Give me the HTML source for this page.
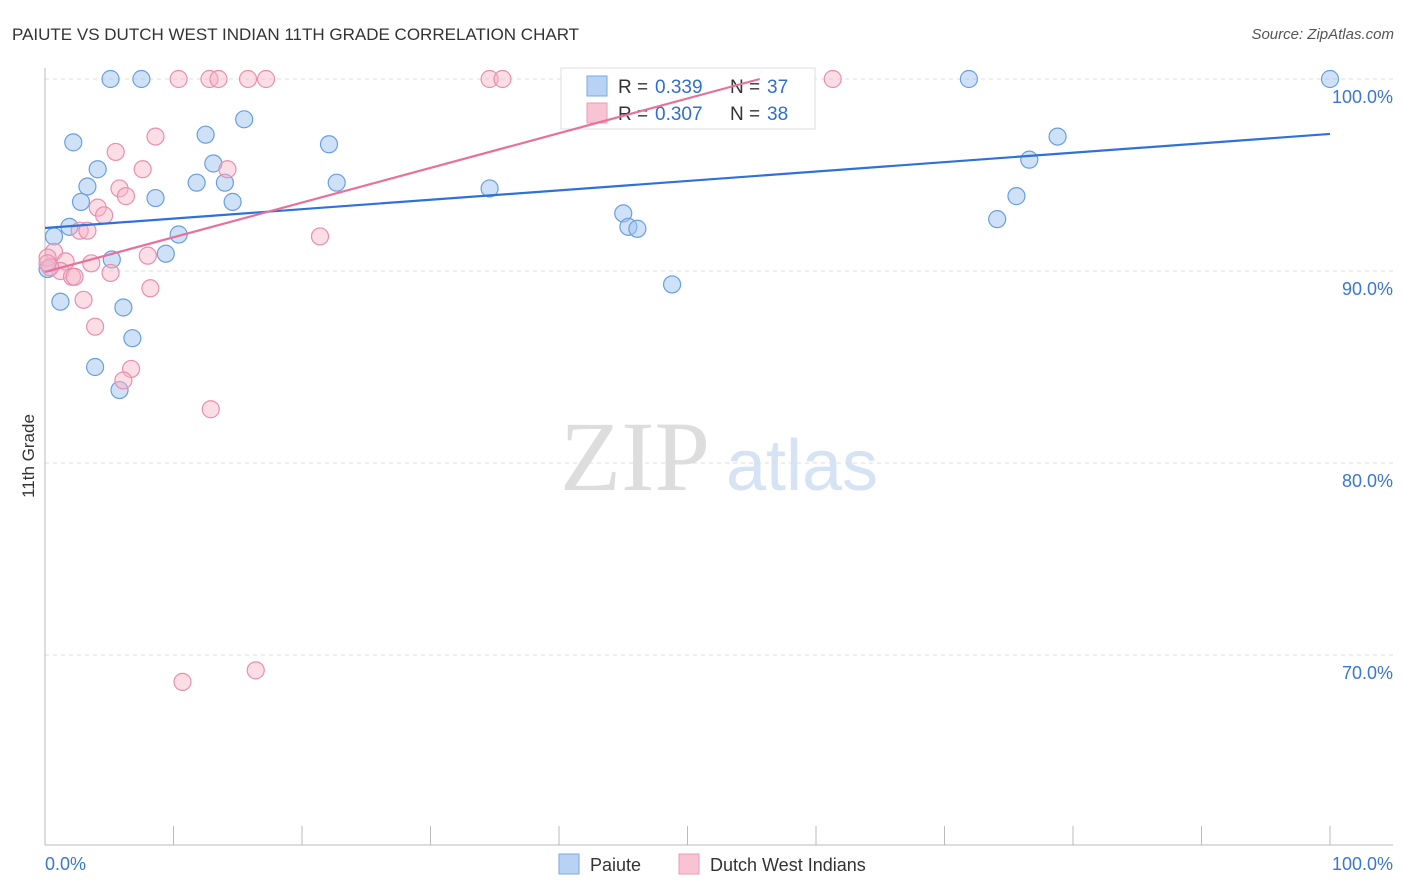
<!DOCTYPE html>
<html><head><meta charset="utf-8"><style>
body{margin:0;background:#fff;font-family:"Liberation Sans",sans-serif}
svg{display:block}
</style></head><body>
<svg id="c" width="1406" height="892">
<text x="12" y="40" font-size="17" fill="#333">PAIUTE VS DUTCH WEST INDIAN 11TH GRADE CORRELATION CHART</text>
<text x="1394" y="39" font-size="15" fill="#555" font-style="italic" text-anchor="end">Source: ZipAtlas.com</text>
<text x="34" y="456" font-size="17" fill="#333" text-anchor="middle" transform="rotate(-90 34 456)">11th Grade</text>
<g><text x="635" y="490" font-size="100" fill="#ddd" font-family="Liberation Serif,serif" text-anchor="middle">ZIP</text><text x="802" y="490" font-size="72" fill="#d6e3f5" text-anchor="middle">atlas</text></g>
<g id="grid"></g><g id="axes"></g>
<g>
<rect x="561" y="68" width="254" height="61" fill="#fff" stroke="#ddd"/>
<rect x="587" y="76" width="20" height="20" fill="#b8d2f4" stroke="#7aa8e6"/>
<text x="618" y="93" font-size="19" fill="#333">R =</text><text x="655" y="93" font-size="19" fill="#2f6fd0">0.339</text>
<text x="730" y="93" font-size="19" fill="#333">N =</text><text x="767" y="93" font-size="19" fill="#2f6fd0">37</text>
<rect x="587" y="103" width="20" height="20" fill="#f8c4d4" stroke="#ec9ab6"/>
<text x="618" y="120" font-size="19" fill="#333">R =</text><text x="655" y="120" font-size="19" fill="#2f6fd0">0.307</text>
<text x="730" y="120" font-size="19" fill="#333">N =</text><text x="767" y="120" font-size="19" fill="#2f6fd0">38</text>
</g>
<g id="marks"></g>
<g>
<rect x="559" y="854" width="20" height="20" fill="#b8d2f4" stroke="#7aa8e6"/><text x="590" y="871" font-size="18" fill="#333">Paiute</text>
<rect x="679" y="854" width="20" height="20" fill="#f8c4d4" stroke="#ec9ab6"/><text x="710" y="871" font-size="18" fill="#333">Dutch West Indians</text>
</g>
<text x="45" y="870" font-size="18" fill="#3a76d4">0.0%</text>
<text x="1393" y="870" font-size="18" fill="#3a76d4" text-anchor="end">100.0%</text>
</svg>
<script>
const yTicks=[100,90,80,70];
const blueX=[5.1,7.5,71.9,100,2.2,12.5,15.5,22.1,4.1,13.1,3.3,11.8,14.0,22.7,34.6,2.8,8.6,14.6,1.9,0.7,10.4,9.4,5.2,0.2,1.2,6.1,6.8,3.9,5.8,45.0,45.4,46.1,48.8,74.1,75.6,76.6,78.8];
const blueY=[100,100,100,100,96.7,97.1,97.9,96.6,95.3,95.6,94.4,94.6,94.6,94.6,94.3,93.6,93.8,93.6,92.3,91.8,91.9,90.9,90.6,90.1,88.4,88.1,86.5,85.0,83.8,93.0,92.3,92.2,89.3,92.7,93.9,95.8,97.0];
const pinkX=[10.4,12.8,13.5,15.8,17.2,34.6,35.6,61.3,8.6,5.5,7.6,14.2,5.8,6.3,4.1,4.6,2.7,3.3,21.4,0.7,0.2,1.6,3.6,5.1,1.2,2.1,2.3,8.2,3.0,3.9,8.0,6.7,6.1,12.9,10.7,16.4,0.4,0.2];
const pinkY=[100,100,100,100,100,100,100,100,97.0,96.2,95.3,95.3,94.3,93.9,93.3,92.9,92.1,92.1,91.8,91.0,90.7,90.5,90.4,89.9,90.0,89.7,89.7,89.1,88.5,87.1,90.8,84.9,84.3,82.8,68.6,69.2,90.2,90.4];
const blueTrend=[92.24,97.14];
const pinkTrend=[89.95,0.1807];
const X=v=>45+v*12.85, Y=v=>79+(100-v)*19.2;
const NS='http://www.w3.org/2000/svg';
function mk(t,a,p){const e=document.createElementNS(NS,t);for(const k in a)e.setAttribute(k,a[k]);p.appendChild(e);return e;}
const grid=document.getElementById('grid'),axes=document.getElementById('axes'),marks=document.getElementById('marks');
yTicks.forEach(t=>{
 const l=mk('line',{x1:45,x2:1393,y1:Y(t),y2:Y(t),stroke:'#ddd','stroke-dasharray':'4 4'},grid);
 
 
 const tx=mk('text',{x:1393,y:Y(t)+24,'font-size':18,fill:'#3a76d4','text-anchor':'end'},grid);
 tx.textContent=t.toFixed(1)+'%';
 
 
});
const xl=mk('line',{x1:45,x2:1393,y1:845,y2:845,stroke:'#bbb'},axes);


const yl=mk('line',{x1:45,x2:45,y1:68,y2:845,stroke:'#bbb'},axes);


for(let i=0;i<=10;i++){const t=mk('line',{x1:X(i*10),x2:X(i*10),y1:826,y2:845,stroke:'#bbb'},axes);
 
 }
function pts(xs,ys,fill,stroke,name){xs.forEach((x,i)=>{const c=mk('circle',{cx:X(x),cy:Y(ys[i]),r:8.5,fill:fill,stroke:stroke,'stroke-width':1.2},marks);
 
 });}
pts(blueX,blueY,'rgba(160,196,240,0.5)','#6a9fe0','paiute-point');
pts(pinkX,pinkY,'rgba(246,180,200,0.45)','#e98fae','dutch-west-indian-point');
const bl=mk('line',{x1:X(0),y1:Y(blueTrend[0]),x2:X(100),y2:Y(blueTrend[1]),stroke:'#2f72d6','stroke-width':2.2},marks);


const xe=Math.min(100,(100-pinkTrend[0])/pinkTrend[1]);
const pl=mk('line',{x1:X(0),y1:Y(pinkTrend[0]),x2:X(xe),y2:Y(pinkTrend[0]+pinkTrend[1]*xe),stroke:'#e8709a','stroke-width':2.2},marks);


</script>
</body></html>
